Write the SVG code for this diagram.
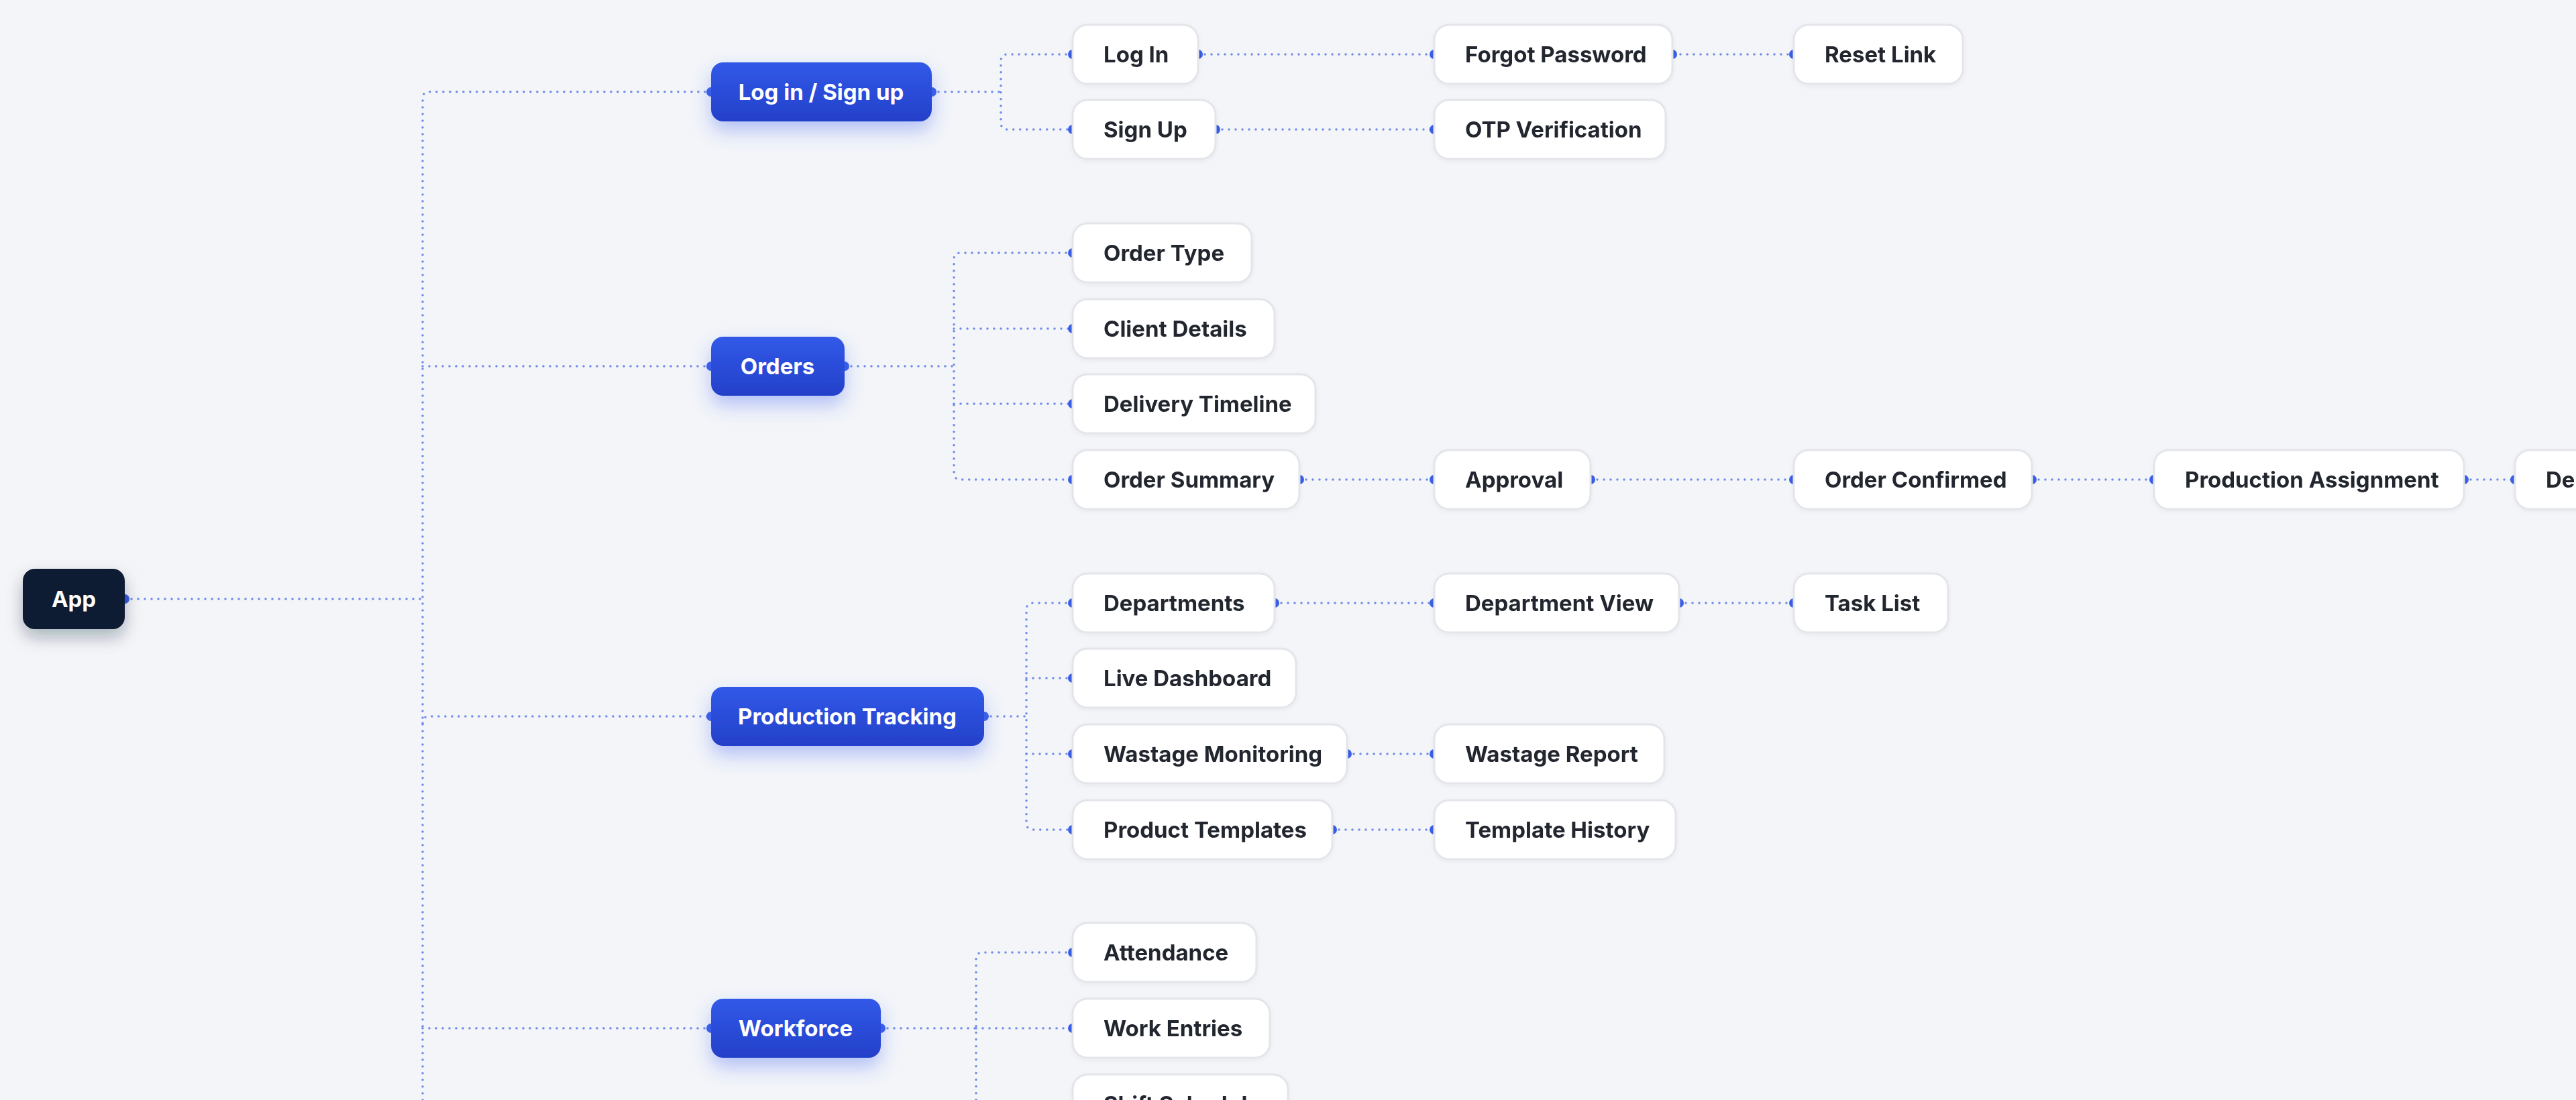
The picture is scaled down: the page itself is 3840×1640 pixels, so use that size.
<svg xmlns="http://www.w3.org/2000/svg" width="3840" height="1640" viewBox="0 0 3840 1640">
<defs>
<linearGradient id="bg" x1="0" y1="0" x2="0" y2="1"><stop offset="0" stop-color="#3159e8"/><stop offset="1" stop-color="#2440c9"/></linearGradient>
<filter id="bs" x="-30%" y="-60%" width="160%" height="240%"><feDropShadow dx="0" dy="14" stdDeviation="14" flood-color="#3d5ef0" flood-opacity="0.35"/></filter>
<filter id="ds" x="-50%" y="-60%" width="200%" height="240%"><feDropShadow dx="0" dy="12" stdDeviation="12" flood-color="#0f172a" flood-opacity="0.3"/></filter>
<filter id="ws" x="-10%" y="-30%" width="120%" height="160%"><feDropShadow dx="0" dy="2" stdDeviation="3" flood-color="#1e2436" flood-opacity="0.05"/></filter>
</defs>
<style>
.c{fill:none;stroke:#6f8ae6;stroke-width:3.5;stroke-dasharray:0 10;stroke-linecap:round}
.d{fill:#3a5ee6}
.w{fill:#fff;stroke:#e3e5ea;stroke-width:3}
.wt{font-family:Inter,"Liberation Sans",sans-serif;font-weight:700;font-size:33px;fill:#23262f}
.pt{font-family:Inter,"Liberation Sans",sans-serif;font-weight:700;font-size:33px;fill:#fff}
</style>
<rect width="3840" height="1640" fill="#f3f5f9"/>
<g id="connectors">
<path class="c" d="M186 893H630"/>
<path class="c" d="M630 1640V147Q630 137 640 137H1060"/>
<path class="c" d="M630 546H1060"/>
<path class="c" d="M630 1078Q630 1068 640 1068H1060"/>
<path class="c" d="M630 1533H1060"/>
<path class="c" d="M1389 137H1492"/>
<path class="c" d="M1599 81H1502Q1492 81 1492 91V183Q1492 193 1502 193H1599"/>
<path class="c" d="M1259 546H1422"/>
<path class="c" d="M1599 377H1432Q1422 377 1422 387V705Q1422 715 1432 715H1599"/>
<path class="c" d="M1422 490H1599M1422 602H1599"/>
<path class="c" d="M1467 1068H1530"/>
<path class="c" d="M1599 899H1540Q1530 899 1530 909V1227Q1530 1237 1540 1237H1599"/>
<path class="c" d="M1530 1011H1599M1530 1124H1599"/>
<path class="c" d="M1313 1533H1455"/>
<path class="c" d="M1599 1420H1465Q1455 1420 1455 1430V1640"/>
<path class="c" d="M1455 1533H1599M1455 1646H1599"/>
<path class="c" d="M1786 81H2138M2355 81H2674"/>
<path class="c" d="M1812 193H2138"/>
<path class="c" d="M1937 715H2138M2371 715H2674M3029 715H3211M3673 715H3749"/>
<path class="c" d="M1900 899H2138M2503 899H2674"/>
<path class="c" d="M2008 1124H2138"/>
<path class="c" d="M1986 1237H2138"/>
<g class="d">
<circle cx="186" cy="893" r="7"/>
<circle cx="1060" cy="137" r="7"/><circle cx="1060" cy="546" r="7"/><circle cx="1060" cy="1068" r="7"/><circle cx="1060" cy="1533" r="7"/>
<circle cx="1389" cy="137" r="7"/><circle cx="1259" cy="546" r="7"/><circle cx="1467" cy="1068" r="7"/><circle cx="1313" cy="1533" r="7"/>
<circle cx="1599" cy="81" r="7"/><circle cx="1599" cy="193" r="7"/><circle cx="1599" cy="377" r="7"/><circle cx="1599" cy="490" r="7"/><circle cx="1599" cy="602" r="7"/><circle cx="1599" cy="715" r="7"/><circle cx="1599" cy="899" r="7"/><circle cx="1599" cy="1011" r="7"/><circle cx="1599" cy="1124" r="7"/><circle cx="1599" cy="1237" r="7"/><circle cx="1599" cy="1420" r="7"/><circle cx="1599" cy="1533" r="7"/>
<circle cx="1786" cy="81" r="7"/><circle cx="1812" cy="193" r="7"/><circle cx="1937" cy="715" r="7"/><circle cx="1900" cy="899" r="7"/><circle cx="2008" cy="1124" r="7"/><circle cx="1986" cy="1237" r="7"/>
<circle cx="2138" cy="81" r="7"/><circle cx="2138" cy="193" r="7"/><circle cx="2138" cy="715" r="7"/><circle cx="2138" cy="899" r="7"/><circle cx="2138" cy="1124" r="7"/><circle cx="2138" cy="1237" r="7"/>
<circle cx="2493" cy="81" r="7"/><circle cx="2371" cy="715" r="7"/><circle cx="2503" cy="899" r="7"/>
<circle cx="2674" cy="81" r="7"/><circle cx="2674" cy="715" r="7"/><circle cx="2674" cy="899" r="7"/>
<circle cx="3029" cy="715" r="7"/><circle cx="3211" cy="715" r="7"/><circle cx="3673" cy="715" r="7"/><circle cx="3749" cy="715" r="7"/>
</g>
</g>
<g id="app"><rect x="34" y="848" width="152" height="90" rx="18" fill="#111a33" filter="url(#ds)"/><text class="pt" x="110" y="905" text-anchor="middle">App</text></g>
<g id="login"><rect x="1060" y="93" width="329" height="88" rx="18" fill="url(#bg)" filter="url(#bs)"/><text class="pt" x="1224" y="149" text-anchor="middle">Log in / Sign up</text></g>
<g id="orders"><rect x="1060" y="502" width="199" height="88" rx="18" fill="url(#bg)" filter="url(#bs)"/><text class="pt" x="1159" y="558" text-anchor="middle">Orders</text></g>
<g id="production"><rect x="1060" y="1024" width="407" height="88" rx="18" fill="url(#bg)" filter="url(#bs)"/><text class="pt" x="1263" y="1080" text-anchor="middle">Production Tracking</text></g>
<g id="workforce"><rect x="1060" y="1489" width="253" height="88" rx="18" fill="url(#bg)" filter="url(#bs)"/><text class="pt" x="1186" y="1545" text-anchor="middle">Workforce</text></g>
<g filter="url(#ws)">
<g id="logIn"><rect class="w" x="1599" y="37" width="187" height="88" rx="22"/><text class="wt" x="1645" y="93">Log In</text></g>
<g id="signUp"><rect class="w" x="1599" y="149" width="213" height="88" rx="22"/><text class="wt" x="1645" y="205">Sign Up</text></g>
<g id="orderType"><rect class="w" x="1599" y="333" width="267" height="88" rx="22"/><text class="wt" x="1645" y="389">Order Type</text></g>
<g id="clientDetails"><rect class="w" x="1599" y="446" width="301" height="88" rx="22"/><text class="wt" x="1645" y="502">Client Details</text></g>
<g id="deliveryTimeline"><rect class="w" x="1599" y="558" width="362" height="88" rx="22"/><text class="wt" x="1645" y="614">Delivery Timeline</text></g>
<g id="orderSummary"><rect class="w" x="1599" y="671" width="338" height="88" rx="22"/><text class="wt" x="1645" y="727">Order Summary</text></g>
<g id="departments"><rect class="w" x="1599" y="855" width="301" height="88" rx="22"/><text class="wt" x="1645" y="911">Departments</text></g>
<g id="liveDashboard"><rect class="w" x="1599" y="967" width="333" height="88" rx="22"/><text class="wt" x="1645" y="1023">Live Dashboard</text></g>
<g id="wastageMonitoring"><rect class="w" x="1599" y="1080" width="409" height="88" rx="22"/><text class="wt" x="1645" y="1136">Wastage Monitoring</text></g>
<g id="productTemplates"><rect class="w" x="1599" y="1193" width="387" height="88" rx="22"/><text class="wt" x="1645" y="1249">Product Templates</text></g>
<g id="attendance"><rect class="w" x="1599" y="1376" width="274" height="88" rx="22"/><text class="wt" x="1645" y="1432">Attendance</text></g>
<g id="workEntries"><rect class="w" x="1599" y="1489" width="294" height="88" rx="22"/><text class="wt" x="1645" y="1545">Work Entries</text></g>
<g id="shiftSchedule"><rect class="w" x="1599" y="1602" width="321" height="88" rx="22"/><text class="wt" x="1645" y="1658">Shift Schedule</text></g>
<g id="forgotPassword"><rect class="w" x="2138" y="37" width="355" height="88" rx="22"/><text class="wt" x="2184" y="93">Forgot Password</text></g>
<g id="otp"><rect class="w" x="2138" y="149" width="345" height="88" rx="22"/><text class="wt" x="2184" y="205">OTP Verification</text></g>
<g id="approval"><rect class="w" x="2138" y="671" width="233" height="88" rx="22"/><text class="wt" x="2184" y="727">Approval</text></g>
<g id="departmentView"><rect class="w" x="2138" y="855" width="365" height="88" rx="22"/><text class="wt" x="2184" y="911">Department View</text></g>
<g id="wastageReport"><rect class="w" x="2138" y="1080" width="343" height="88" rx="22"/><text class="wt" x="2184" y="1136">Wastage Report</text></g>
<g id="templateHistory"><rect class="w" x="2138" y="1193" width="360" height="88" rx="22"/><text class="wt" x="2184" y="1249">Template History</text></g>
<g id="resetLink"><rect class="w" x="2674" y="37" width="252" height="88" rx="22"/><text class="wt" x="2720" y="93">Reset Link</text></g>
<g id="orderConfirmed"><rect class="w" x="2674" y="671" width="355" height="88" rx="22"/><text class="wt" x="2720" y="727">Order Confirmed</text></g>
<g id="taskList"><rect class="w" x="2674" y="855" width="230" height="88" rx="22"/><text class="wt" x="2720" y="911">Task List</text></g>
<g id="productionAssignment"><rect class="w" x="3211" y="671" width="462" height="88" rx="22"/><text class="wt" x="3257" y="727">Production Assignment</text></g>
<g id="dep"><rect class="w" x="3749" y="671" width="300" height="88" rx="22"/><text class="wt" x="3795" y="727">Department</text></g>
</g>
</svg>
